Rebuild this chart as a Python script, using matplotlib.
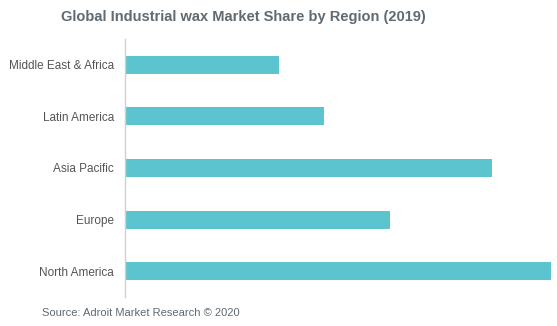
import matplotlib
matplotlib.use("Agg")
import matplotlib.pyplot as plt

categories = ["North America", "Europe", "Asia Pacific", "Latin America", "Middle East & Africa"]
values = [30.2, 18.8, 26.0, 14.1, 10.9]

title = "Global Industrial wax Market Share by Region (2019)"
source = "Source: Adroit Market Research © 2020"

fig = plt.figure(figsize=(5.57, 3.26), dpi=100)
ax = fig.add_axes([125/557, 1-297/326, (551-125)/557, 258/326])
ax.barh(range(len(categories)), values, height=0.35, color="#5bc4ce")
ax.set_yticks(range(len(categories)))
ax.set_yticklabels(categories, fontsize=8.5, color="#555555", family="Liberation Sans")
ax.set_ylim(-0.5, 4.5)
ax.set_xlim(0, max(values))
ax.set_xticks([])
for s in ["top", "right", "bottom"]:
    ax.spines[s].set_visible(False)
ax.spines["left"].set_color("#d0d0d0")
ax.spines["left"].set_linewidth(1)
ax.tick_params(axis="y", length=0, pad=8)

fig.text(243/557, 1-17/326, title, ha="center", va="center", fontsize=10.5,
         fontweight="bold", color="#5f6a72", family="Liberation Sans")
fig.text(42/557, 1-313/326, source, ha="left", va="center", fontsize=8,
         color="#5f6a72", family="Liberation Sans")

fig.savefig("out.png", dpi=100)
